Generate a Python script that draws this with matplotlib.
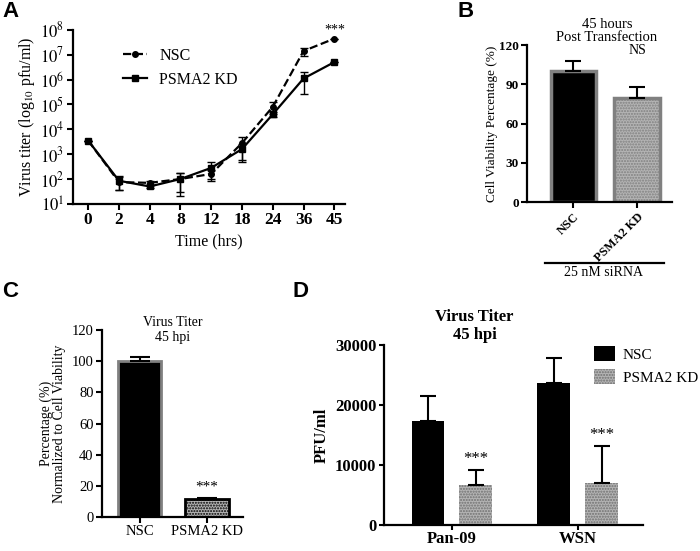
import matplotlib
matplotlib.use("Agg")
import matplotlib.pyplot as plt
from matplotlib.lines import Line2D
import numpy as np

plt.rcParams['font.family'] = ['Liberation Serif', 'DejaVu Serif']
plt.rcParams['mathtext.fontset'] = 'stix'
plt.rcParams['hatch.linewidth'] = 1.0

# Panel A: virus titer time course
time_labels = ['0', '2', '4', '8', '12', '18', '24', '36', '45']
nsc_titer = [3.5e3, 75, 70, 100, 160, 2.8e3, 8e4, 1.4e7, 4.4e7]
nsc_err = [0, 40, 10, 80, 60, 2.3e3, 4e4, 0.5e7, 0]
kd_titer = [3.5e3, 85, 50, 100, 280, 1.6e3, 4e4, 1.1e6, 5e6]
kd_err = [0, 50, 8, 70, 200, 1.0e3, 1e4, 0.85e6, 0]

# Panel B: cell viability
via_groups = ['NSC', 'PSMA2 KD']
via_values = [100, 80]
via_err = [8, 8]

# Panel C: normalized titer
norm_groups = ['NSC', 'PSMA2 KD']
norm_values = [100, 11.5]
norm_err = [2.5, 1]

# Panel D: PFU/ml by strain
strains = ['Pan-09', 'WSN']
pfu_nsc = [17300, 23600]
pfu_nsc_err = [4200, 4200]
pfu_kd = [6600, 7000]
pfu_kd_err = [2600, 6100]

black = '#000000'
stipple = '#b4b4b4'
edge_gray = '#808080'

fig = plt.figure(figsize=(7, 5.51), dpi=100)


def style_axes(ax, ticklen=5):
    for s in ['top', 'right']:
        ax.spines[s].set_visible(False)
    for s in ['left', 'bottom']:
        ax.spines[s].set_linewidth(1.6)
    ax.tick_params(direction='out', width=1.5, length=ticklen, pad=2)


def panel_label(x, y, s):
    fig.text(x, y, s, fontsize=16, fontweight='bold', family='Liberation Sans', va='top')


# ---- A ----
axA = fig.add_axes([0.104, 0.630, 0.389, 0.316])
x = np.arange(len(time_labels))
axA.errorbar(x, nsc_titer, yerr=nsc_err, color=black, ls='--', lw=1.6, marker='o',
             ms=4, capsize=3, elinewidth=1.0)
axA.errorbar(x, kd_titer, yerr=kd_err, color=black, ls='-', lw=1.6, marker='s',
             ms=4, capsize=3, elinewidth=1.0)
axA.set_yscale('log')
axA.set_ylim(10, 1e8)
axA.set_xlim(-0.5, 8.35)
axA.set_yticks([10 ** i for i in range(1, 9)])
axA.set_yticklabels([f'$10^{i}$' for i in range(1, 9)], fontsize=12)
axA.yaxis.set_minor_locator(matplotlib.ticker.NullLocator())
axA.set_xticks(x)
axA.set_xticklabels(time_labels, fontsize=12.5, fontweight='bold')
style_axes(axA, 4)
axA.set_xlabel('Time (hrs)', fontsize=11.5)
axA.set_ylabel('Virus titer (log$_{10}$ pfu/ml)', fontsize=11.5, labelpad=2)
handles = [Line2D([], [], color=black, ls='--', lw=1.6, marker='o', ms=4),
           Line2D([], [], color=black, ls='-', lw=1.6, marker='s', ms=4)]
axA.legend(handles, ['NSC', 'PSMA2 KD'], loc='upper left', bbox_to_anchor=(0.13, 0.98),
           frameon=False, fontsize=11.5, handlelength=1.5)
axA.text(8, 5.5e7, '***', ha='center', va='bottom', fontsize=10)
panel_label(0.003, 0.998, 'A')

# ---- B ----
axB = fig.add_axes([0.753, 0.633, 0.207, 0.285])
xb = np.arange(len(via_groups))
axB.bar(xb, via_values, width=0.71, color=[black, stipple], edgecolor=edge_gray,
        linewidth=2.5, hatch=[None, '......'])
axB.errorbar(xb, via_values, yerr=[[0, 0], via_err], fmt='none', ecolor=black,
             elinewidth=1.5, capsize=6, capthick=1.5)
axB.set_ylim(0, 120)
axB.set_xlim(-0.73, 1.55)
axB.set_yticks([0, 30, 60, 90, 120])
axB.set_yticklabels(['0', '30', '60', '90', '120'], fontweight='bold', fontsize=9.5)
axB.set_xticks(xb)
axB.set_xticklabels(via_groups, rotation=45, ha='right', rotation_mode='anchor',
                    fontweight='bold', fontsize=9)
style_axes(axB, 4)
axB.set_ylabel('Cell Viability Percentage (%)', fontsize=9.5, labelpad=1)
axB.text(0.55, 1.09, '45 hours\nPost Transfection', transform=axB.transAxes,
         ha='center', va='center', fontsize=10.5, linespacing=1.05)
axB.text(1.0, 121, 'NS', ha='center', va='top', fontsize=10)
fig.add_artist(Line2D([545 / 700, 664 / 700], [1 - 263 / 551, 1 - 263 / 551],
                      color=black, lw=1.6))
fig.text(604 / 700, 1 - 272 / 551, '25 nM siRNA', ha='center', va='center', fontsize=10)
panel_label(0.653, 0.998, 'B')

# ---- C ----
axC = fig.add_axes([0.1457, 0.0617, 0.201, 0.339])
xc = np.arange(len(norm_groups))
axC.bar(xc, norm_values, width=0.64, color=[black, stipple],
        edgecolor=[edge_gray, black], linewidth=2.0, hatch=[None, '......'])
axC.errorbar(xc, norm_values, yerr=[[0, 0], norm_err], fmt='none', ecolor=black,
             elinewidth=1.5, capsize=7, capthick=1.5)
axC.set_ylim(0, 120)
axC.set_xlim(-0.56, 1.53)
axC.set_yticks(range(0, 121, 20))
style_axes(axC, 4)
axC.tick_params(labelsize=10.5)
axC.set_xticks(xc)
axC.set_xticklabels(norm_groups, fontsize=10.5)
axC.set_ylabel('Percentage (%)\nNormalized to Cell Viability', fontsize=10,
               linespacing=1.0)
axC.text(0.5, 1.0, 'Virus Titer\n45 hpi', transform=axC.transAxes, ha='center',
         va='center', fontsize=10, linespacing=1.2)
axC.text(1, 15, '***', ha='center', va='bottom', fontsize=11)
panel_label(0.003, 1 - 281 / 551, 'C')

# ---- D ----
axD = fig.add_axes([0.5486, 0.0472, 0.37, 0.3267])
xd = np.arange(len(strains))
off = 0.19
w = 0.26
axD.bar(xd - off, pfu_nsc, width=w, color=black, label='NSC')
axD.bar(xd + off, pfu_kd, width=w, color=stipple, edgecolor='#707070', linewidth=0,
        hatch='......', label='PSMA2 KD')
axD.errorbar(xd - off, pfu_nsc, yerr=[[0, 0], pfu_nsc_err], fmt='none', ecolor=black,
             elinewidth=1.5, capsize=6, capthick=1.5)
axD.errorbar(xd + off, pfu_kd, yerr=[[0, 0], pfu_kd_err], fmt='none', ecolor=black,
             elinewidth=1.5, capsize=6, capthick=1.5)
for xi, v, e in zip(xd + off, pfu_kd, pfu_kd_err):
    axD.text(xi, v + e + 500, '***', ha='center', va='bottom', fontsize=12)
axD.set_ylim(0, 30000)
axD.set_xlim(-0.54, 1.52)
axD.set_yticks([0, 10000, 20000, 30000])
axD.set_yticklabels(['0', '10000', '20000', '30000'], fontweight='bold', fontsize=12)
axD.set_xticks(xd)
axD.set_xticklabels(strains, fontweight='bold', fontsize=12)
style_axes(axD, 3.5)
axD.tick_params(axis='x', pad=1)
axD.set_ylabel('PFU/ml', fontweight='bold', fontsize=12)
axD.text(0.35, 1.105, 'Virus Titer\n45 hpi', transform=axD.transAxes, ha='center',
         va='center', fontweight='bold', fontsize=12, linespacing=1.1)
axD.legend(loc='upper right', bbox_to_anchor=(1.265, 1.07), frameon=False, fontsize=11,
           handlelength=1.4, handleheight=1.1, handletextpad=0.5)
panel_label(292 / 700, 1 - 281 / 551, 'D')

fig.savefig('out.png', dpi=100)
